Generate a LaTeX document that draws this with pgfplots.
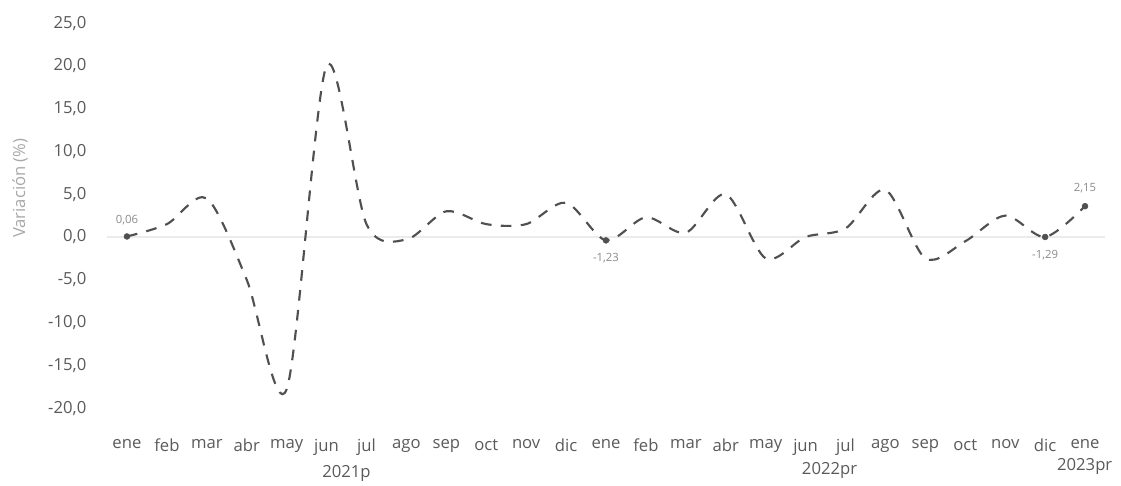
\documentclass[border=0pt]{standalone}
\usepackage{fontspec}
\setmainfont{Open Sans}
\usepackage{pgfplots}
\pgfplotsset{compat=1.18}
\usetikzlibrary{calc}
\definecolor{linec}{HTML}{505050}
\definecolor{tickc}{HTML}{5A5A5A}
\definecolor{ylabc}{HTML}{A8A8A8}
\definecolor{gridc}{HTML}{EBEBEB}
\definecolor{labc}{HTML}{8A8A8A}
\begin{document}
\begin{tikzpicture}[x=1pt,y=1pt]
\begin{axis}[
  scale only axis,
  width=748.5pt, height=308pt,
  xmin=-0.5, xmax=24.5,
  ymin=-22, ymax=26,
  axis line style={draw=none},
  tick style={draw=none},
  xtick={0,...,24},
  xticklabels={ene,feb,mar,abr,may,jun,jul,ago,sep,oct,nov,dic,ene,feb,mar,abr,may,jun,jul,ago,sep,oct,nov,dic,ene},
  ytick={-20,-15,...,25},
  yticklabels={-20{,}0,-15{,}0,-10{,}0,-5{,}0,0{,}0,5{,}0,10{,}0,15{,}0,20{,}0,25{,}0},
  ticklabel style={font=\fontsize{12.5}{14}\selectfont, text=tickc},
  xticklabel style={yshift=-7pt},
  yticklabel style={xshift=-12pt},
  ylabel={Variación (\%)},
  ylabel style={font=\fontsize{12.5}{14}\selectfont, text=ylabc, at={(axis description cs:-0.0872,0.577)}, anchor=center, rotate=0},
  clip=false,
]
\draw[gridc, line width=0.8pt] (axis cs:-0.5,0) -- (axis cs:24.5,0);
\addplot[linec, line width=1.6pt, smooth, tension=0.5, dash pattern=on 8pt off 7pt, mark=none] coordinates {
(0,0.06) (1,1.5) (2,4.5) (3,-5) (4,-17.8) (5,20) (6,1.5) (7,-0.3) (8,3) (9,1.5) (10,1.5) (11,4)
(12,-0.4) (13,2.3) (14,0.5) (15,5) (16,-2.5) (17,0) (18,1) (19,5.5) (20,-2.5) (21,-0.5) (22,2.5) (23,0) (24,3.6)
};
\addplot[only marks, mark=*, mark size=2.2pt, color=linec] coordinates {(0,0.06) (12,-0.4) (23,0) (24,3.6)};
\node[font=\fontsize{8.5}{10}\selectfont, text=labc, above] at (axis cs:0,0.8) {0,06};
\node[font=\fontsize{8.5}{10}\selectfont, text=labc, below] at (axis cs:12,-1.3) {-1,23};
\node[font=\fontsize{8.5}{10}\selectfont, text=labc, below] at (axis cs:23,-1.0) {-1,29};
\node[font=\fontsize{8.5}{10}\selectfont, text=labc, above] at (axis cs:24,4.6) {2,15};
\node[font=\fontsize{12.5}{14}\selectfont, text=tickc, yshift=-36pt] at (axis cs:5.5,-22) {2021p};
\node[font=\fontsize{12.5}{14}\selectfont, text=tickc, yshift=-34pt] at (axis cs:17.6,-22) {2022pr};
\node[font=\fontsize{12.5}{14}\selectfont, text=tickc, yshift=-31pt, anchor=east] at (axis cs:24.8,-22) {2023pr};
\end{axis}
\pgfresetboundingbox
\path[use as bounding box] ($(current axis.south west)+(-80.25pt,-45pt)$) rectangle ($(current axis.north east)+(12pt,10.9pt)$);
\end{tikzpicture}
\end{document}
